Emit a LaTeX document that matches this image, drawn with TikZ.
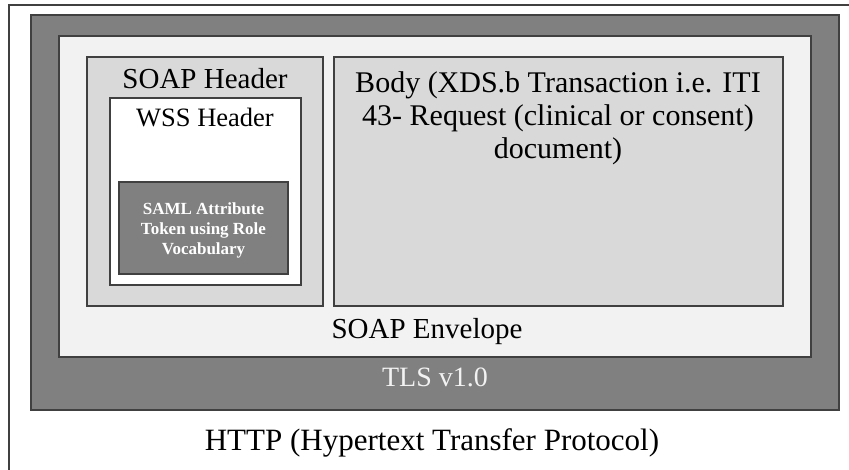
\documentclass[tikz,border=0pt]{standalone}
\usepackage{fontspec}
\setmainfont{Liberation Serif}
\usepackage{xcolor}

\begin{document}
\begin{tikzpicture}[
  x=1pt, y=-1pt,
  layer/.style={draw=black!75,line width=1.2pt,anchor=north west,inner sep=0pt,outer sep=0pt},
  caption/.style={font=\fontsize{28}{33}\selectfont,align=center,inner sep=0pt},
  token/.style={font=\fontsize{17}{20}\selectfont\bfseries,align=center,inner sep=0pt,text=white}
]
  \useasboundingbox (0,0) rectangle (849,470);
  \clip (0,0) rectangle (849,470);
  \node[layer,fill=white,minimum width=880pt,minimum height=490pt] (http) at (9,5) {};
  \node[layer,fill=black!50,minimum width=808pt,minimum height=395pt] (tls) at (31,15) {};
  \node[layer,fill=black!5,minimum width=752pt,minimum height=321pt] (envelope) at (59,36) {};
  \node[layer,fill=black!15,minimum width=236pt,minimum height=249pt] (header) at (87,57) {};
  \node[layer,fill=black!15,minimum width=449pt,minimum height=249pt] (body) at (334,57) {};
  \node[layer,fill=white,minimum width=191pt,minimum height=187pt] (wss) at (110,98) {};
  \node[layer,fill=black!50,minimum width=169pt,minimum height=92pt] (saml) at (119,182) {};
  \node[caption,anchor=base,font=\fontsize{29}{33}\selectfont] (headertext) at (205,89) {SOAP Header};
  \node[caption,anchor=base,font=\fontsize{26.5}{30}\selectfont] (wsstext) at (205,127) {WSS Header};
  \node[token,anchor=north] (samltext) at (203.5,203) {SAML Attribute\\Token using Role\\Vocabulary};
  \node[caption,anchor=north,font=\fontsize{30}{33}\selectfont] (bodytext) at (558,71) {Body (XDS.b Transaction i.e. ITI\\43- Request (clinical or consent)\\document)};
  \node[caption,anchor=base,font=\fontsize{29}{33}\selectfont] (envelopetext) at (427,338) {SOAP Envelope};
  \node[caption,anchor=base,text=black!5] (tlstext) at (435,387) {TLS v1.0};
  \node[caption,anchor=base,font=\fontsize{31}{36}\selectfont] (httptext) at (432,450) {HTTP (Hypertext Transfer Protocol)};
\end{tikzpicture}
\end{document}
